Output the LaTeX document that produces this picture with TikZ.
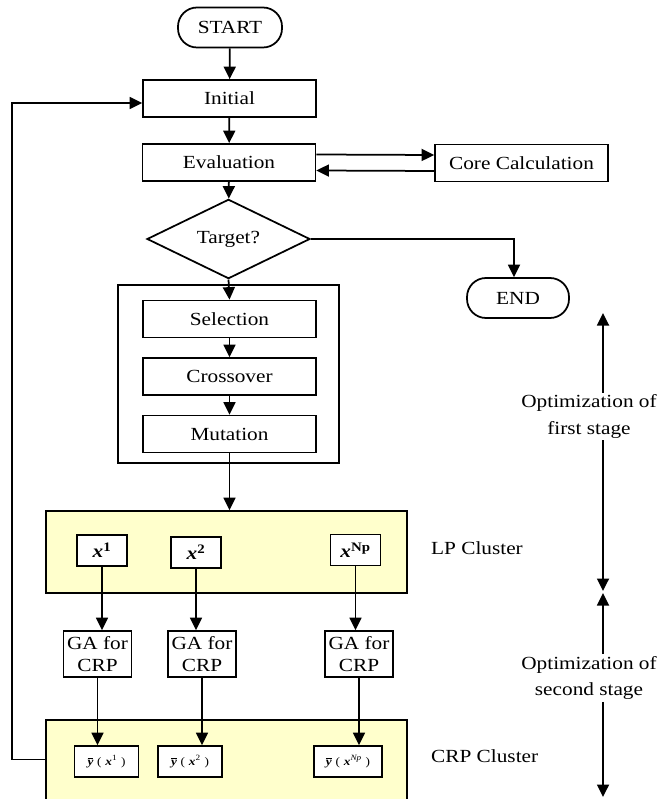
\documentclass[tikz,border=0pt]{standalone}
\usepackage{fontspec}
\setmainfont{Liberation Serif}[FakeStretch=1.15]
\usetikzlibrary{shapes.geometric,arrows.meta}
\definecolor{lpyellow}{HTML}{FFFFCC}
\newcommand{\mainfs}{\fontsize{18.5}{22}\selectfont}
\newcommand{\smallfs}{\fontsize{11.5}{13}\selectfont}
\newcommand{\ybarsym}{$\overline{\mbox{\bfseries\itshape y}}$}
\tikzset{
  lw/.style={line width=1.75pt},
  box/.style={draw, lw, inner sep=0pt, minimum width=173pt, minimum height=37pt, font=\mainfs},
  term/.style={draw, lw, inner sep=0pt, rounded corners=19pt, minimum height=40pt, font=\mainfs},
  decision/.style={draw, lw, diamond, inner sep=0pt, minimum width=163pt, minimum height=58pt, font=\mainfs},
  cluster/.style={draw, lw, fill=lpyellow, inner sep=0pt, minimum width=361pt},
  xbox/.style={draw, lw, fill=white, inner sep=0pt, minimum width=50pt, minimum height=31pt, font=\mainfs},
  gabox/.style={draw, lw, fill=white, inner sep=0pt, minimum width=68pt, minimum height=46pt, align=center, font=\fontsize{18.5}{21.7}\selectfont},
  ybox/.style={draw, lw, fill=white, inner sep=0pt, minimum width=64pt, minimum height=31pt, font=\smallfs},
  lbl/.style={font=\mainfs, inner sep=0pt},
  optlbl/.style={font=\fontsize{18.5}{26.5}\selectfont, align=center, inner sep=2pt},
  arr/.style={lw, -{Triangle[length=12.5pt,width=12pt]}},
}
\begin{document}
\begin{tikzpicture}[x=1pt,y=-1pt]
\useasboundingbox (0,0) rectangle (660,799);
% outer GA box
\node[draw, lw, inner sep=0pt, minimum width=221pt, minimum height=178pt] (gaouter) at (228.5,374) {};
% main flow
\node[term, minimum width=104pt] (start) at (230,27.5) {START};
\node[box] (init) at (229.5,98.5) {Initial};
\node[box] (eval) at (229,162.5) {Evaluation};
\node[box] (core) at (521.5,163) {Core Calculation};
\node[decision] (tgt) at (228.5,239) {Target?};
\node[term, minimum width=102pt] (end) at (518,298) {END};
\node[box] (sel) at (229.5,319) {Selection};
\node[box] (cross) at (229.5,376.5) {Crossover};
\node[box] (mut) at (229.5,434) {Mutation};
% clusters
\node[cluster, minimum height=82pt] (lp) at (226.5,552) {};
\node[cluster, minimum height=84pt] (crp) at (226.5,762) {};
\node[lbl, anchor=base west] (lplbl) at (431,554) {LP Cluster};
\node[lbl, anchor=base west] (crplbl) at (431,762) {CRP Cluster};
% x boxes
\node[xbox] (x1) at (102,550.5) {\textbf{\textit{x}}\textsuperscript{\textbf{1}}};
\node[xbox] (x2) at (196,552.5) {\textbf{\textit{x}}\textsuperscript{\textbf{2}}};
\node[xbox] (x3) at (355.5,550) {\textbf{\textit{x}}\textsuperscript{\textbf{Np}}};
% GA boxes
\node[gabox] (ga1) at (97.5,654) {GA for\\CRP};
\node[gabox] (ga2) at (202,654) {GA for\\CRP};
\node[gabox] (ga3) at (359,654) {GA for\\CRP};
% y boxes
\node[ybox] (y1) at (106.5,761.5) {\ybarsym\,\,(\,\,\textbf{\textit{x}}\textsuperscript{1}\,\,)};
\node[ybox] (y2) at (190,761.5) {\ybarsym\,\,(\,\,\textbf{\textit{x}}\textsuperscript{2}\,\,)};
\node[ybox, minimum width=68pt] (y3) at (348,761.5) {\ybarsym\,\,(\,\,\textbf{\textit{x}}\textsuperscript{\textit{Np}}\,\,)};
% right-side labels
\node[optlbl] (opt1) at (589,416.5) {Optimization of\\first stage};
\node[optlbl] (opt2) at (589,678) {Optimization of\\second stage};
\coordinate (r1) at (603,313);
\coordinate (r2) at (603,591);
\coordinate (r3) at (603,593);
\coordinate (r4) at (603,797);
% connectors
\draw[arr] (start) -- (init);
\draw[arr] (init) -- (eval);
\draw[arr] ([yshift=8pt]eval.east) -- ([yshift=8pt]core.west);
\draw[arr] ([yshift=-8pt]core.west) -- ([yshift=-8pt]eval.east);
\draw[arr] (eval) -- (tgt);
\draw[arr] (tgt.east) -| ([xshift=-4pt]end.north);
\draw[arr] (tgt.south) -- (sel.north);
\draw[arr] (sel) -- (cross);
\draw[arr] (cross) -- (mut);
\draw[arr] (mut.south) -- (mut.south |- lp.north);
\draw[arr] (x1.south) -- (x1.south |- ga1.north);
\draw[arr] (x2.south) -- (x2.south |- ga2.north);
\draw[arr] (x3.south) -- (x3.south |- ga3.north);
\draw[arr] (ga1.south) -- (ga1.south |- y1.north);
\draw[arr] (ga2.south) -- (ga2.south |- y2.north);
\draw[arr] (ga3.south) -- (ga3.south |- y3.north);
\draw[arr] ([yshift=2.5pt]crp.west) -- ++(-33,0) |- ([yshift=-4.5pt]init.west);
\draw[arr] (opt1.north -| r1) -- (r1);
\draw[arr] (opt1.south -| r1) -- (r2);
\draw[arr] (opt2.north -| r3) -- (r3);
\draw[arr] (opt2.south -| r4) -- (r4);
\end{tikzpicture}
\end{document}
